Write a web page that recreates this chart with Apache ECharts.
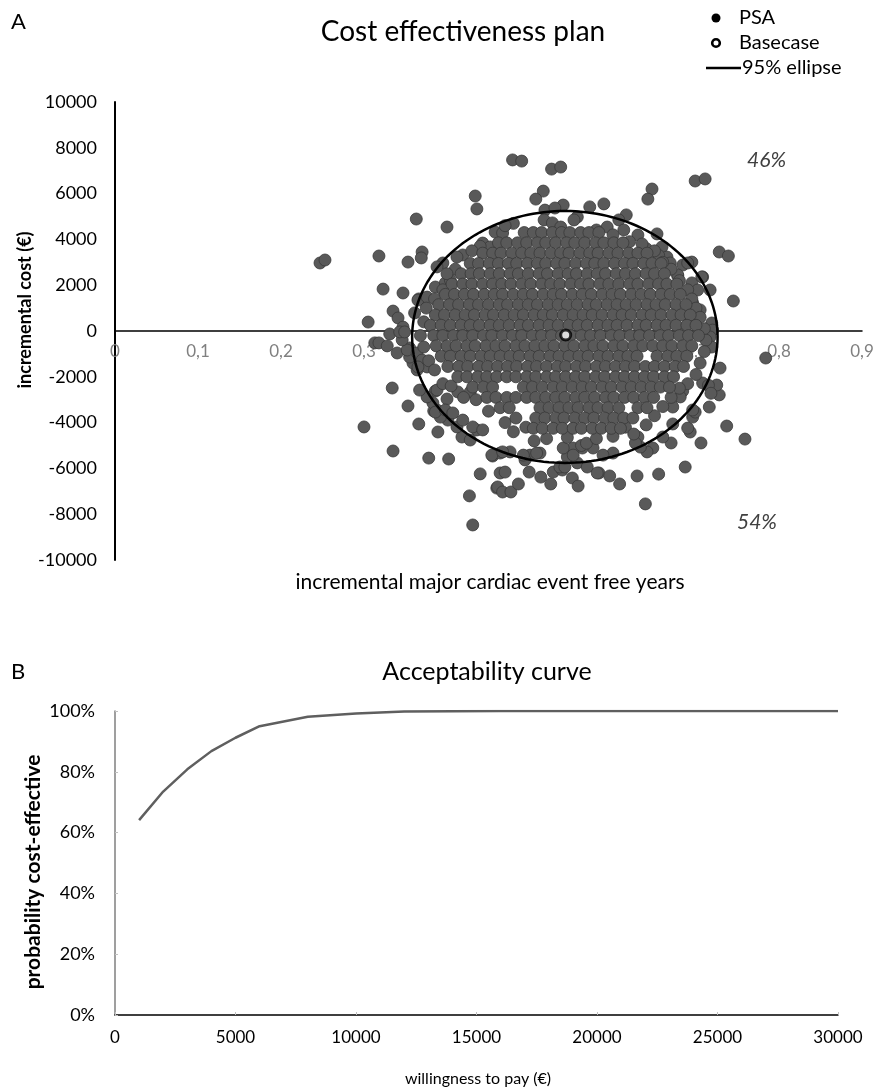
<!DOCTYPE html>
<html>
<head>
<meta charset="utf-8">
<script src="https://cdn.jsdelivr.net/npm/echarts@6/dist/echarts.min.js"></script>
<style>
html,body{margin:0;padding:0;background:#fff;}
#chart{width:890px;height:1089px;}
</style>
</head>
<body>
<div id="chart"></div>
<script>
// ---------- DATA ----------
// Panel A: PSA points outside / near the 95% ellipse  [incremental effect (years), incremental cost (€)]
const psaOutliers = [
 [0.247,2970],[0.253,3100],[0.434,5895],[0.436,5330],[0.363,4890],[0.400,4540],
 [0.318,3275],[0.353,3010],[0.370,3450],[0.369,3190],[0.323,1830],[0.347,1660],
 [0.335,870],[0.341,570],[0.305,390],[0.366,1400],[0.313,-520],[0.318,-520],
 [0.328,-650],[0.340,-960],[0.331,-130],[0.347,40],[0.355,-740],[0.334,-2490],
 [0.353,-3275],[0.300,-4190],[0.366,-4060],[0.389,-4410],[0.335,-5240],[0.378,-5550],
 [0.402,-5590],[0.418,-4630],[0.440,-6240],[0.427,-7200],[0.431,-8470],[0.460,-6860],
 [0.455,-5460],[0.384,-3490],[0.386,-2620],[0.400,-2970],[0.464,-6200],[0.470,-6160],
 [0.461,-6810],[0.467,-7030],[0.477,-7030],[0.486,-6680],[0.499,-6160],[0.513,-6380],
 [0.525,-6680],[0.528,-6160],[0.539,-6070],[0.551,-6420],[0.558,-6770],[0.583,-6200],
 [0.596,-6330],[0.608,-6680],[0.629,-6330],[0.639,-7550],[0.655,-6250],[0.687,-5940],
 [0.706,-4890],[0.737,-4150],[0.759,-4720],[0.716,-3320],[0.728,-2790],[0.725,-2360],
 [0.708,-2270],[0.729,-1620],[0.784,-1180],[0.693,-4410],[0.690,-4240],[0.696,-3760],
 [0.699,-3540],[0.672,-4060],[0.670,-4890],[0.660,-4630],[0.684,-2620],[0.681,-2880],
 [0.479,7470],[0.490,7420],[0.526,7070],[0.537,7160],[0.516,6110],[0.507,5760],
 [0.699,6550],[0.711,6640],[0.647,6200],[0.642,5760],[0.589,5550],[0.616,5070],
 [0.653,4240],[0.728,3450],[0.739,3275],[0.745,1310],[0.717,1790],[0.708,2360],
 [0.695,3010],[0.684,2880],[0.678,2400],[0.540,5500],[0.572,5420],[0.719,260]
];
// PSA points along the inside of the ellipse
const psaFringe = [
 [0.518,5280],[0.530,5370],[0.557,4980],[0.553,4850],[0.517,4850],[0.527,4720],
 [0.537,4540],[0.580,4410],[0.593,4540],[0.607,4850],[0.613,4410],[0.458,4320],
 [0.467,4280],[0.443,3840],[0.452,3670],[0.419,3320],[0.412,3230],[0.395,2970],
 [0.388,2800],[0.386,1920],[0.398,2100],[0.404,2230],[0.365,1350],[0.376,1480],
 [0.361,790],[0.630,4190],[0.659,3670],[0.665,3230],[0.669,2970],[0.678,2450],
 [0.690,2970],[0.695,2100],[0.702,1790],[0.707,2360],[0.696,1220],[0.705,920],
 [0.719,350],[0.720,40],[0.717,-260],[0.693,350],[0.684,40],[0.719,-700],
 [0.715,-2370],[0.718,-2720],[0.696,-3450],[0.672,-3320],[0.648,-5110],[0.641,-5280],
 [0.633,-5070],[0.630,-4630],[0.627,-4890],[0.600,-5330],[0.588,-5420],[0.576,-5110],
 [0.563,-5110],[0.552,-5110],[0.545,-5500],[0.536,-5940],[0.512,-5330],[0.500,-5420],
 [0.494,-5630],[0.476,-5280],[0.464,-5330],[0.454,-5420],[0.428,-4760],[0.436,-4320],
 [0.412,-4190],[0.401,-3890],[0.392,-3760],[0.388,-3450],[0.383,-3140],[0.376,-2880],
 [0.367,-2580],[0.364,-1700],[0.359,-1400],[0.355,-1140],[0.352,-830],[0.347,170],
 [0.346,-390],[0.343,-40],[0.349,-40],[0.364,-960],[0.370,-1270],[0.376,-1570],
 [0.365,-1570],[0.386,-3540],[0.398,-3450],[0.388,-2580],[0.413,-2660],[0.428,-2660],
 [0.407,-3580],[0.419,-3890],[0.431,-4190],[0.443,-4320],[0.467,-5280],[0.542,-5940],
 [0.557,-5760],[0.569,-5940],[0.581,-6200],[0.492,-5420],[0.508,-5330],[0.540,-5110],
 [0.552,-5420],[0.562,-5000],[0.568,-4900],[0.520,-4700],[0.545,-4650],[0.580,-4700],
 [0.600,-4600],[0.505,-4800],[0.615,-4200],[0.495,-4200],[0.480,4700],[0.470,4600],
 [0.600,4200],[0.620,3900],[0.640,3600],[0.655,3300],[0.440,3700],[0.430,3500],
 [0.410,2700],[0.400,2500],[0.395,1800],[0.385,1400],[0.375,1000],[0.372,400],
 [0.368,-200],[0.372,-700],[0.378,-1300],[0.385,-1700],[0.395,-2300],[0.405,-2400],
 [0.420,-2900],[0.435,-3000],[0.450,-3500],[0.470,-4000],[0.480,-4400],[0.690,1800],
 [0.695,1400],[0.700,1000],[0.705,600],[0.710,100],[0.712,-400],[0.710,-900],
 [0.705,-1400],[0.700,-1900],[0.690,-2300],[0.680,-2500],[0.670,-2900],[0.660,-3300],
 [0.650,-3700],[0.640,-4100],[0.625,-4500],[0.680,2200],[0.670,2700],[0.660,3000],
 [0.650,3500],[0.635,3800]
];
// Dense core of the PSA cloud: [incremental cost, [incremental effects ...]]
const psaCoreRows = [
 [4300,[0.493,0.504,0.514,0.527,0.538,0.548,0.561,0.571,0.583]],
 [3850,[0.462,0.472,0.485,0.496,0.509,0.519,0.531,0.544,0.554,0.566,0.579,0.589,0.601,0.612]],
 [3400,[0.443,0.455,0.465,0.478,0.490,0.501,0.512,0.525,0.537,0.547,0.560,0.572,0.582,0.595,0.606,0.619,0.630,0.641]],
 [2950,[0.428,0.438,0.451,0.462,0.474,0.484,0.497,0.509,0.519,0.532,0.542,0.555,0.568,0.578,0.589,0.602,0.614,0.624,0.637,0.647,0.658]],
 [2500,[0.417,0.429,0.439,0.452,0.463,0.476,0.486,0.498,0.511,0.521,0.534,0.546,0.556,0.569,0.581,0.591,0.604,0.615,0.627,0.640,0.650,0.662]],
 [2050,[0.406,0.419,0.430,0.443,0.455,0.466,0.477,0.490,0.501,0.514,0.525,0.536,0.549,0.561,0.571,0.584,0.595,0.607,0.620,0.630,0.643,0.655,0.665,0.677]],
 [1600,[0.398,0.409,0.421,0.432,0.445,0.457,0.467,0.480,0.492,0.503,0.516,0.528,0.538,0.551,0.563,0.574,0.587,0.599,0.609,0.622,0.634,0.645,0.658,0.669,0.681]],
 [1150,[0.390,0.403,0.414,0.427,0.438,0.450,0.463,0.473,0.486,0.498,0.509,0.522,0.534,0.545,0.557,0.570,0.580,0.593,0.605,0.616,0.628,0.641,0.652,0.663,0.676,0.688]],
 [700,[0.386,0.397,0.410,0.422,0.433,0.446,0.456,0.469,0.481,0.492,0.505,0.516,0.527,0.540,0.552,0.564,0.575,0.587,0.600,0.611,0.622,0.635,0.646,0.658,0.671,0.682,0.693]],
 [250,[0.380,0.393,0.404,0.417,0.428,0.439,0.452,0.463,0.475,0.488,0.498,0.511,0.523,0.534,0.547,0.558,0.569,0.582,0.594,0.605,0.617,0.630,0.640,0.653,0.664,0.676,0.689,0.700]],
 [-200,[0.384,0.395,0.408,0.419,0.431,0.444,0.454,0.467,0.479,0.490,0.503,0.514,0.526,0.538,0.549,0.562,0.573,0.585,0.598,0.608,0.621,0.632,0.644,0.657,0.667,0.680,0.691,0.703]],
 [-650,[0.387,0.400,0.411,0.424,0.434,0.447,0.459,0.470,0.483,0.494,0.506,0.518,0.529,0.542,0.553,0.566,0.577,0.588,0.601,0.612,0.625,0.636,0.648,0.660,0.671,0.684,0.695]],
 [-1100,[0.393,0.404,0.417,0.428,0.441,0.452,0.464,0.476,0.487,0.500,0.511,0.524,0.535,0.547,0.559,0.570,0.583,0.594,0.607,0.618,0.629,0.653,0.666,0.677,0.689]],
 [-1550,[0.401,0.414,0.425,0.438,0.449,0.461,0.473,0.484,0.497,0.508,0.520,0.533,0.543,0.556,0.567,0.580,0.591,0.603,0.615,0.626,0.639,0.650,0.662,0.675,0.685]],
 [-2000,[0.413,0.424,0.437,0.448,0.460,0.472,0.483,0.496,0.507,0.520,0.531,0.543,0.555,0.566,0.579,0.590,0.603,0.614,0.626,0.638,0.649,0.662,0.673]],
 [-2450,[0.431,0.444,0.455,0.492,0.503,0.515,0.528,0.539,0.551,0.563,0.574,0.587,0.598,0.611,0.622,0.634,0.646,0.657,0.668]],
 [-2900,[0.448,0.459,0.472,0.483,0.496,0.507,0.519,0.531,0.542,0.555,0.566,0.578,0.591,0.601,0.614,0.625,0.638,0.649]],
 [-3350,[0.464,0.475,0.512,0.523,0.535,0.547,0.558,0.571,0.582,0.594,0.607,0.630,0.641]],
 [-3800,[0.483,0.507,0.518,0.531,0.541,0.554,0.566,0.577,0.590,0.601,0.613,0.624]],
 [-4250,[0.504,0.515,0.528,0.539,0.552,0.562,0.575,0.586,0.598,0.609]]
];
const basecase = [0.543, -175];
const ellipseCenter = [0.542, -260];
const ellipseRadii = [0.184, 5500];
const quadrantLabels = ['46%', '54%'];

// Panel B: acceptability curve
const wtp = [1000,2000,3000,4000,5000,6000,8000,10000,12000,14000,16000,18000,20000,22000,24000,26000,28000,30000];
const probCE = [64.1,73.5,80.8,86.8,91.2,95.0,98.1,99.2,99.8,99.9,100,100,100,100,100,100,100,100];

// ---------- BUILD ----------
const psaData = psaOutliers.concat(psaFringe);
psaCoreRows.forEach(r => r[1].forEach(x => psaData.push([x, r[0]])));

const FF = 'Lato';
const plain = v => String(v);
const chart = echarts.init(document.getElementById('chart'));
chart.setOption({
  animation: false,
  backgroundColor: '#fff',
  textStyle: { fontFamily: FF },
  title: [
    { text: 'Cost effectiveness plan', left: 458, top: 13, textAlign: 'center',
      textStyle: { fontFamily: FF, fontSize: 28, fontWeight: 'normal', color: '#000' } },
    { text: 'Acceptability curve', left: 482, top: 654, textAlign: 'center',
      textStyle: { fontFamily: FF, fontSize: 25, fontWeight: 'normal', color: '#000' } }
  ],
  grid: [
    { left: 115, right: 28, top: 102, height: 458 },
    { left: 115, right: 52, top: 711, height: 304 }
  ],
  xAxis: [
    { gridIndex: 0, type: 'value', min: 0, max: 0.9, interval: 0.1,
      position: 'bottom', offset: -229,
      axisLine: { onZero: false, lineStyle: { color: '#000', width: 1.5 } },
      axisTick: { show: false }, splitLine: { show: false },
      axisLabel: { color: '#808080', fontSize: 17, margin: 12,
        formatter: v => String(+v.toFixed(1)).replace('.', ',') } },
    { gridIndex: 1, type: 'value', min: 0, max: 30000, interval: 5000,
      axisLine: { lineStyle: { color: '#000', width: 1.5 } },
      axisTick: { inside: true, length: 3, lineStyle: { color: '#c0c0c0' } },
      splitLine: { show: false },
      axisLabel: { color: '#000', fontSize: 17, margin: 14, formatter: plain } }
  ],
  yAxis: [
    { gridIndex: 0, type: 'value', min: -10000, max: 10000, interval: 2000,
      axisLine: { show: true, lineStyle: { color: '#000', width: 2 } },
      axisTick: { show: false }, splitLine: { show: false },
      axisLabel: { color: '#000', fontSize: 18, margin: 18, formatter: plain } },
    { gridIndex: 1, type: 'value', min: 0, max: 100, interval: 20,
      axisLine: { show: true, lineStyle: { color: '#7f7f7f', width: 1.5 } },
      axisTick: { show: true, inside: true, length: 3, lineStyle: { color: '#c0c0c0' } },
      splitLine: { show: false },
      axisLabel: { color: '#000', fontSize: 18, margin: 20, formatter: '{value}%' } }
  ],
  series: [
    { name: 'PSA', type: 'scatter', xAxisIndex: 0, yAxisIndex: 0, data: psaData,
      symbol: 'circle', symbolSize: 12, silent: true,
      itemStyle: { color: '#595959', borderColor: '#383838', borderWidth: 0.8, opacity: 1 } },
    { name: '95% ellipse', type: 'custom', xAxisIndex: 0, yAxisIndex: 0, silent: true, z: 3,
      data: [ellipseCenter],
      renderItem: function (params, api) {
        const pts = [];
        for (let i = 0; i < 180; i++) {
          const t = i / 180 * Math.PI * 2;
          pts.push(api.coord([ellipseCenter[0] + ellipseRadii[0] * Math.cos(t),
                              ellipseCenter[1] + ellipseRadii[1] * Math.sin(t)]));
        }
        return { type: 'polygon', shape: { points: pts },
                 style: { fill: 'transparent', stroke: '#000', lineWidth: 2.5 } };
      } },
    { name: 'Basecase', type: 'scatter', xAxisIndex: 0, yAxisIndex: 0, data: [basecase], z: 5,
      symbol: 'circle', symbolSize: 10, silent: true,
      itemStyle: { color: '#fff', borderColor: '#000', borderWidth: 3 } },
    { name: 'Acceptability', type: 'line', xAxisIndex: 1, yAxisIndex: 1,
      data: wtp.map((w, i) => [w, probCE[i]]), symbol: 'none', silent: true,
      lineStyle: { color: '#5f5f5f', width: 2.5 } }
  ],
  graphic: [
    { type: 'text', x: 11, y: 22, style: { text: 'A', font: '22px Lato', fill: '#000', verticalAlign: 'middle' } },
    { type: 'text', x: 11, y: 672, style: { text: 'B', font: '22px Lato', fill: '#000', verticalAlign: 'middle' } },
    { type: 'circle', shape: { cx: 716, cy: 18, r: 4.5 }, style: { fill: '#000' } },
    { type: 'text', x: 739, y: 18, style: { text: 'PSA', font: '20px Lato', fill: '#000', verticalAlign: 'middle' } },
    { type: 'circle', shape: { cx: 716, cy: 43, r: 3.8 }, style: { fill: '#fff', stroke: '#000', lineWidth: 2.6 } },
    { type: 'text', x: 739, y: 43, style: { text: 'Basecase', font: '20px Lato', fill: '#000', verticalAlign: 'middle' } },
    { type: 'line', shape: { x1: 706, y1: 68, x2: 741, y2: 68 }, style: { stroke: '#000', lineWidth: 2.5 } },
    { type: 'text', x: 742, y: 68, style: { text: '95% ellipse', font: '20px Lato', fill: '#000', verticalAlign: 'middle' } },
    { type: 'text', x: 747, y: 160, style: { text: quadrantLabels[0], font: 'italic 21px Lato', fill: '#404040', verticalAlign: 'middle' } },
    { type: 'text', x: 737, y: 522, style: { text: quadrantLabels[1], font: 'italic 21px Lato', fill: '#404040', verticalAlign: 'middle' } },
    { type: 'text', x: 490, y: 582, style: { text: 'incremental major cardiac event free years', font: '21px Lato', fill: '#000', align: 'center', verticalAlign: 'middle' } },
    { type: 'text', x: 25, y: 310, rotation: Math.PI / 2, style: { text: 'incremental cost (€)', font: 'bold 18px Lato', fill: '#000', align: 'center', verticalAlign: 'middle' } },
    { type: 'text', x: 478, y: 1079, style: { text: 'willingness to pay (€)', font: '16px Lato', fill: '#000', align: 'center', verticalAlign: 'middle' } },
    { type: 'text', x: 33, y: 872, rotation: Math.PI / 2, style: { text: 'probability cost-effective', font: 'bold 21px Lato', fill: '#000', align: 'center', verticalAlign: 'middle' } }
  ]
});
</script>
</body>
</html>
